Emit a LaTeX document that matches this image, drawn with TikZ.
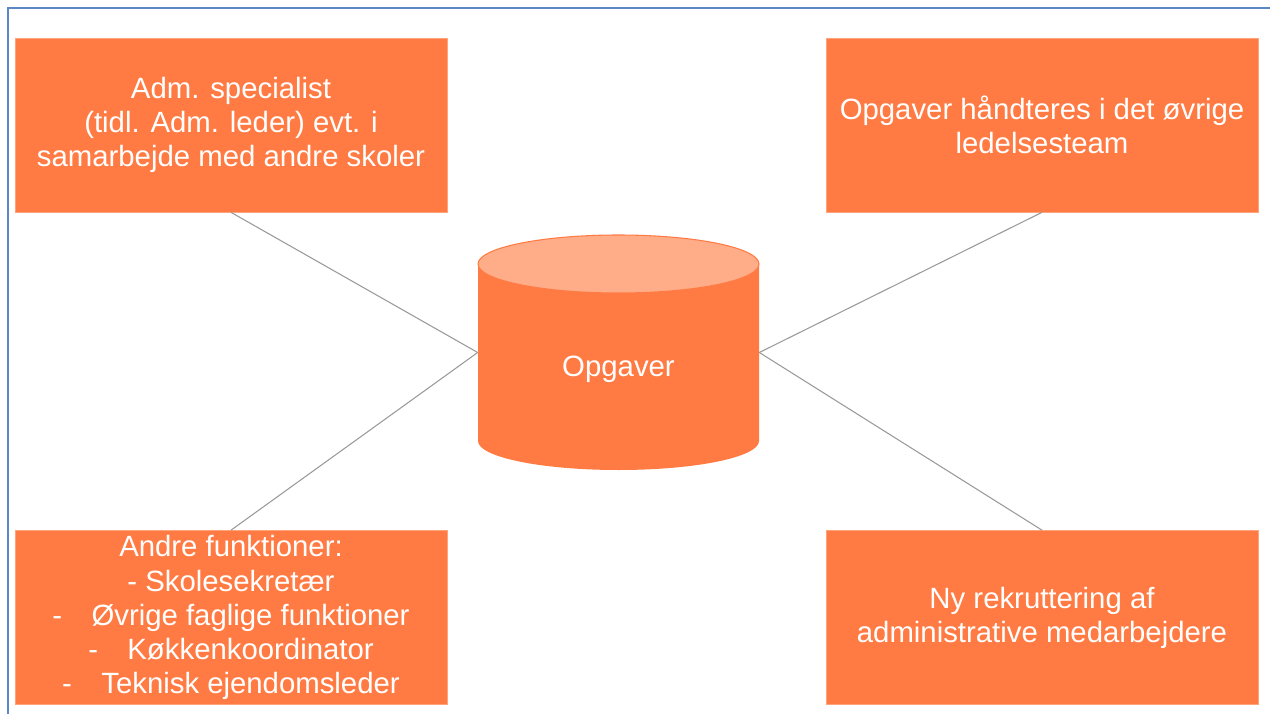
\documentclass[tikz,border=0pt]{standalone}
\usepackage{fontspec}
\setmainfont{Liberation Sans}
\usetikzlibrary{positioning}
\definecolor{boxorange}{RGB}{255,123,67}
\definecolor{toporange}{RGB}{255,172,137}
\definecolor{frameblue}{RGB}{91,135,198}

\begin{document}
\begin{tikzpicture}[x=0.02cm, y=0.02cm,
    taskbox/.style={
        fill=boxorange,
        draw=boxorange!70!white,
        minimum width=8.64cm,
        minimum height=3.48cm,
        inner sep=0pt,
        align=center,
        text=white,
        font=\fontsize{16.7}{19.4}\selectfont
    },
    link/.style={draw=gray!80, line width=0.6pt}
]
    \useasboundingbox (0,0) rectangle (1270,714);
    \draw[frameblue, line width=1.1pt] (8,0) -- (8,706) -- (1270,706);

    % the four boxes
    \node[taskbox] (admspec) at (231,589) {
        Adm. specialist\\
        (tidl. Adm. leder) evt. i\\
        samarbejde med andre skoler
    };
    \node[taskbox] (ledteam) at (1042,589) {
        Opgaver håndteres i det øvrige\\
        ledelsesteam
    };
    \node[taskbox] (andre) at (231,96.5) {
        Andre funktioner:\\
        - Skolesekretær\\
        -\hspace{1em}Øvrige faglige funktioner\\
        -\hspace{1em}Køkkenkoordinator\\
        -\hspace{1em}Teknisk ejendomsleder
    };
    \node[taskbox] (rekrut) at (1042,96.5) {
        Ny rekruttering af\\
        administrative medarbejdere
    };

    % cylinder in the middle
    \node[minimum width=5.62cm, minimum height=4.7cm, inner sep=0pt] (opg) at (618.5,361.5) {};
    \fill[boxorange] (478,450) -- (478,273)
        arc[start angle=180, end angle=360, x radius=140.5, y radius=29] -- (759,450) -- cycle;
    \filldraw[fill=toporange, draw=boxorange, line width=0.6pt]
        (618.5,450) ellipse[x radius=140.5, y radius=29];
    \node[text=white, font=\fontsize{16.7}{19.4}\selectfont] (opglabel) at (618.5,344.5) {Opgaver};

    % connectors
    \draw[link] (admspec.south) -- (opg.west);
    \draw[link] (andre.north) -- (opg.west);
    \draw[link] (ledteam.south) -- (opg.east);
    \draw[link] (rekrut.north) -- (opg.east);
\end{tikzpicture}
\end{document}
